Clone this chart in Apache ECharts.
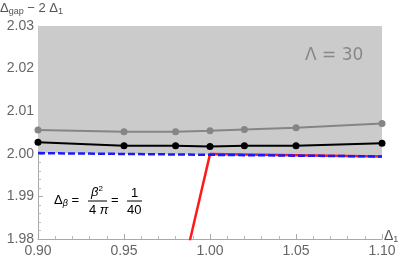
<!DOCTYPE html>
<html><head><meta charset="utf-8">
<script src="https://cdn.jsdelivr.net/npm/echarts@6/dist/echarts.min.js"></script>
<style>html,body{margin:0;padding:0;background:#fff}#c{width:409px;height:262px}</style>
</head><body><div id="c"></div>
<script>
var xTicks = [0.90, 0.95, 1.00, 1.05, 1.10];
var grayX = [0.90, 0.95, 0.98, 1.00, 1.02, 1.05, 1.10];
var grayY = [2.0056, 2.0052, 2.0052, 2.0054, 2.0057, 2.0061, 2.0071];
var blackX = [0.90, 0.95, 0.98, 1.00, 1.02, 1.05, 1.10];
var blackY = [2.0027, 2.0019, 2.0019, 2.0017, 2.0019, 2.0019, 2.0025];
var blueX = [0.90, 1.10];
var blueY = [2.00016, 1.99937];
var redX = [0.985, 1.00, 1.10];
var redY = [1.9739, 1.99993, 1.99937];

function pairs(xs, ys){ return xs.map(function(x,i){ return [x, ys[i]]; }); }

var font = 'Liberation Sans';
var chart = echarts.init(document.getElementById('c'));
chart.setOption({
  animation: false,
  grid: {left: 38, right: 27, top: 26, bottom: 23},
  xAxis: {
    type: 'value', min: 0.90, max: 1.10, interval: 0.05,
    axisLine: {lineStyle: {color: '#aaa', width: 1}},
    axisTick: {inside: true, length: 5, lineStyle: {color: '#aaa'}},
    minorTick: {show: true, splitNumber: 5, length: 3, lineStyle: {color: '#bbb'}},
    splitLine: {show: false},
    axisLabel: {color: '#666', fontFamily: font, fontSize: 14, margin: 5,
      formatter: function(v){ return v.toFixed(2); }}
  },
  yAxis: {
    type: 'value', min: 1.98, max: 2.03, interval: 0.01,
    axisLine: {show: true, lineStyle: {color: '#aaa', width: 1}},
    axisTick: {show: true, inside: true, length: 5, lineStyle: {color: '#aaa'}},
    minorTick: {show: true, splitNumber: 5, length: 3, lineStyle: {color: '#bbb'}},
    splitLine: {show: false},
    axisLabel: {color: '#666', fontFamily: font, fontSize: 14, margin: 4,
      formatter: function(v){ return v.toFixed(2); }}
  },
  series: [
    {type: 'line', data: pairs(blueX, blueY), symbol: 'none', lineStyle: {width: 0},
     areaStyle: {origin: 'end', color: '#cbcbcb', opacity: 1}, z: 1},
    {type: 'line', data: pairs(redX, redY), symbol: 'none', clip: true,
     lineStyle: {color: '#ff1a1a', width: 2.5}, z: 3},
    {type: 'line', data: pairs(blueX, blueY), symbol: 'none',
     lineStyle: {color: '#1a1aff', width: 2.5, type: [7, 3]}, z: 4},
    {type: 'line', data: pairs(grayX, grayY), symbol: 'circle', symbolSize: 7,
     itemStyle: {color: '#858585'}, lineStyle: {color: '#858585', width: 2}, z: 5},
    {type: 'line', data: pairs(blackX, blackY), symbol: 'circle', symbolSize: 7,
     itemStyle: {color: '#000'}, lineStyle: {color: '#000', width: 2}, z: 6}
  ],
  graphic: {elements: [
    {type: 'text', z: 100, left: 0, top: 2, style: {
      text: '{a|Δ}{s|gap}{a| − 2 Δ}{s|1}', fill: '#555',
      rich: {a: {fontFamily: font, fontSize: 13, fill: '#555'},
             s: {fontFamily: font, fontSize: 9, fill: '#555', padding: [6, 0, 0, 0]}}}},
    {type: 'text', z: 100, left: 384, top: 229, style: {
      text: '{a|Δ}{s|1}',
      rich: {a: {fontFamily: font, fontSize: 14, fill: '#555'},
             s: {fontFamily: font, fontSize: 9, fill: '#555', padding: [7, 0, 0, 0]}}}},
    {type: 'text', z: 100, left: 305, top: 47, style: {
      text: 'Λ = 30', fontFamily: 'DejaVu Sans', fontSize: 17, fill: '#888'}},
    {type: 'text', z: 100, left: 54, top: 194, style: {
      text: '{a|Δ}{s|β}{a| =}',
      rich: {a: {fontFamily: font, fontSize: 13, fill: '#000'},
             s: {fontFamily: font, fontSize: 9, fontStyle: 'italic', fill: '#000', padding: [6, 0, 0, 0]}}}},
    {type: 'text', z: 100, left: 91, top: 185, style: {
      text: '{b|β}{p|2}',
      rich: {b: {fontFamily: font, fontSize: 13, fontStyle: 'italic', fill: '#000'},
             p: {fontFamily: font, fontSize: 8, fill: '#000', padding: [0, 0, 7, 0]}}}},
    {type: 'line', z: 100, shape: {x1: 88, y1: 201, x2: 107, y2: 201}, style: {stroke: '#000', lineWidth: 1}},
    {type: 'text', z: 100, left: 89, top: 204, style: {
      text: '4 {b|π}', fontFamily: font, fontSize: 13, fill: '#000',
      rich: {b: {fontFamily: font, fontSize: 13, fontStyle: 'italic', fill: '#000'}}}},
    {type: 'text', z: 100, left: 111, top: 194, style: {text: '=', fontFamily: font, fontSize: 13, fill: '#000'}},
    {type: 'text', z: 100, left: 131, top: 187, style: {text: '1', fontFamily: font, fontSize: 13, fill: '#000'}},
    {type: 'line', z: 100, shape: {x1: 127, y1: 201, x2: 142, y2: 201}, style: {stroke: '#000', lineWidth: 1}},
    {type: 'text', z: 100, left: 127, top: 204, style: {text: '40', fontFamily: font, fontSize: 13, fill: '#000'}}
  ]}
});
</script></body></html>
